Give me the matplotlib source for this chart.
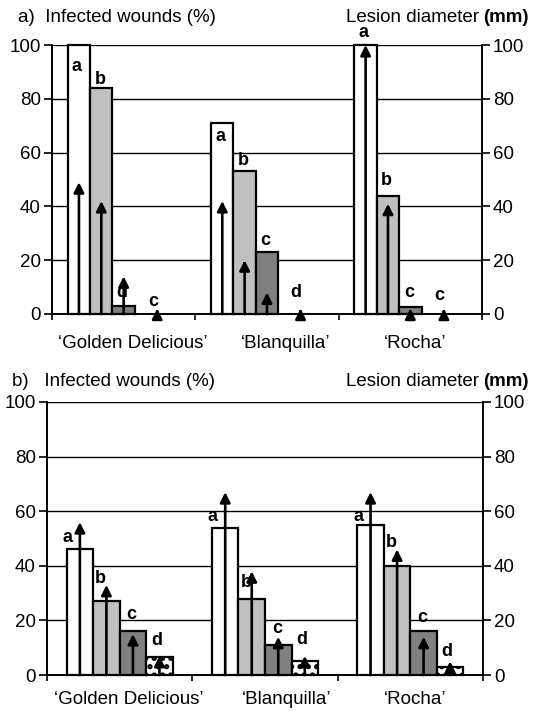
import numpy as np
import matplotlib
matplotlib.use("Agg")
import matplotlib.pyplot as plt

plt.rcParams['font.family'] = ['Liberation Sans', 'DejaVu Sans']
plt.rcParams['hatch.linewidth'] = 2.5

# ---- data ----
cultivars = ["\u2018Golden Delicious\u2019", "\u2018Blanquilla\u2019", "\u2018Rocha\u2019"]

# panel a: infected wounds (%) per treatment (bars), lesion diameter (mm, arrows)
wounds_a = [
    [100, 71, 100],   # white
    [84, 53, 44],     # light grey
    [3, 23, 2.5],     # dark grey
]
lesion_a = [
    [49, 42, 100],
    [42, 20, 41],
    [14, 8, 2],
    [2, 2, 2],
]
letters_a = [
    ["a", "a", "a"],
    ["b", "b", "b"],
    ["d", "c", "c"],
    ["c", "d", "c"],
]

# panel b
wounds_b = [
    [46, 54, 55],
    [27, 28, 40],
    [16, 11, 16],
    [6.5, 5, 3],
]
lesion_b = [
    [56, 67, 67],
    [33, 38, 46],
    [15, 14, 14],
    [7, 7, 5],
]
letters_b = [
    ["a", "a", "a"],
    ["b", "b", "b"],
    ["c", "c", "c"],
    ["d", "d", "d"],
]

# where the letters sit (y in axis units)
lab_y_a = [[92, 66, 104.5], [87, 57, 49.5], [8, 27.5, 8], [4.5, 8, 7]]
lab_y_b = [[50.5, 58, 58], [35.5, 34, 48.7], [22, 17, 21], [12.5, 13, 8.5]]

fills = ["white", "#c0c0c0", "#808080", "white"]
hatches = [None, None, None, ".."]


def style_axes(ax, ax2, label_xs, label_y):
    ax.set_xlim(-0.5, 2.5)
    ax.set_ylim(0, 100)
    ax2.set_ylim(0, 100)
    ax.set_yticks(range(0, 101, 20))
    ax2.set_yticks(range(0, 101, 20))
    ax.set_xticks([-0.5, 0.5, 1.5, 2.5])
    ax.set_xticklabels([])
    ax.yaxis.grid(True, color="black", linewidth=1.0)
    ax.set_axisbelow(True)
    for a in (ax, ax2):
        for s in a.spines.values():
            s.set_linewidth(1.2)
        a.tick_params(axis="y", labelsize=13.5, length=6, width=1.2, pad=2)
        a.tick_params(axis="x", length=4, width=1.2)
    ax.spines["top"].set_visible(False)
    ax2.spines["top"].set_visible(False)
    for xc, name in zip(label_xs, cultivars):
        ax.text(xc, label_y, name, transform=ax.get_xaxis_transform(),
                ha="center", va="center", fontsize=13.5)


def draw_panel(ax, ax2, wounds, lesion, letters, lab_y, width, nslots,
               arrow_idx, dx_lab):
    x = np.arange(len(cultivars))
    start = -width * nslots / 2
    for i, vals in enumerate(wounds):
        ax.bar(x + start + (i + 0.5) * width, vals, width=width, color=fills[i],
               edgecolor="black", linewidth=1.6, hatch=hatches[i], zorder=2,
               clip_on=False)
    for i, vals in enumerate(lesion):
        xs = x + start + (arrow_idx[i] + 0.5) * width
        for xx, v, lab, ly in zip(xs, vals, letters[i], lab_y[i]):
            ax2.annotate("", xy=(xx, v), xytext=(xx, 0),
                         arrowprops=dict(arrowstyle="-|>,head_width=0.3,head_length=0.6",
                                         color="black", lw=1.9,
                                         shrinkA=0, shrinkB=0), zorder=4)
            ax2.text(xx + dx_lab[i], ly, lab, ha="center", va="center",
                     fontsize=13, fontweight="bold", zorder=5)


def header(fig, y_px, left_txt, left_x_px):
    W, H = fig.get_size_inches() * fig.dpi
    fig.text(left_x_px / W, 1 - y_px / H, left_txt, ha="left", va="center", fontsize=13.5)
    t = fig.text(529 / W, 1 - y_px / H, "(mm)", ha="right", va="center",
                 fontsize=13.5, fontweight="bold")
    r = fig.canvas.get_renderer()
    bb = t.get_window_extent(renderer=r)
    fig.text(bb.x0 / W - 4 / W, 1 - y_px / H, "Lesion diameter", ha="right",
             va="center", fontsize=13.5)


fig = plt.figure(figsize=(5.42, 7.14), dpi=100)
W, H = 542, 714

ax_a = fig.add_axes([52 / W, 1 - 314 / H, 430 / W, 269 / H])
ax_a2 = ax_a.twinx()
ax_b = fig.add_axes([47 / W, 1 - 675 / H, 436 / W, 273 / H])
ax_b2 = ax_b.twinx()

draw_panel(ax_a, ax_a2, wounds_a, lesion_a, letters_a, lab_y_a,
           width=0.156, nslots=5, arrow_idx=[0, 1, 2, 3.5],
           dx_lab=[-0.015, -0.01, -0.01, -0.03])
draw_panel(ax_b, ax_b2, wounds_b, lesion_b, letters_b, lab_y_b,
           width=0.1825, nslots=4, arrow_idx=[0, 1, 2, 3],
           dx_lab=[-0.085, -0.04, -0.01, -0.02])

style_axes(ax_a, ax_a2, [0.06, 1.13, 2.03], -0.108)
style_axes(ax_b, ax_b2, [0.06, 1.15, 2.03], -0.09)

header(fig, 17, "a)  Infected wounds (%)", 18)
header(fig, 382, "b)   Infected wounds (%)", 12)

fig.savefig("out.png", dpi=100)
